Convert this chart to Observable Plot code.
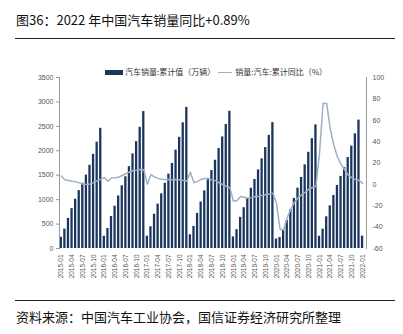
<!DOCTYPE html>
<html><head><meta charset="utf-8">
<script src="https://cdn.jsdelivr.net/npm/d3@7"></script>
<script src="https://cdn.jsdelivr.net/npm/@observablehq/plot@0.6"></script>
<style>
body{margin:0;background:#fff;width:403px;height:334px;position:relative;overflow:hidden;font-family:"Noto Sans CJK SC","Noto Sans",sans-serif;}
#title{position:absolute;left:16px;top:11px;font-size:13px;line-height:18px;color:#111;white-space:nowrap;}
.rule{position:absolute;left:15px;width:380px;border-top:1px solid #222;height:0;}
#chart{position:absolute;left:0;top:44px;}
#legend{position:absolute;top:66px;left:105px;font-size:8px;line-height:12px;color:#333;white-space:nowrap;display:flex;align-items:center;}
#legend .box{display:inline-block;width:18px;height:5px;background:#1b365d;margin-right:2px;}
#legend .ln{display:inline-block;width:14px;height:0;border-top:1.3px solid #9db0c6;margin:0 3px 0 3px;}
#source{position:absolute;left:16px;top:308px;font-size:13px;line-height:18px;color:#111;white-space:nowrap;}
</style></head>
<body>
<div id="title">图36：2022 年中国汽车销量同比+0.89%</div>
<div class="rule" style="top:38px"></div>
<div id="chart"></div>
<div id="legend"><span class="box"></span>汽车销量:累计值（万辆）<span class="ln"></span>销量:汽车:累计同比（%）</div>
<div class="rule" style="top:300px"></div>
<div id="source">资料来源：中国汽车工业协会，国信证券经济研究所整理</div>
<script>
// categories
const years = [2015, 2016, 2017, 2018, 2019, 2020, 2021];
const lastMonth = "2022-01";
// cumulative sales (万辆)
const sales2015 = [231.9, 397.6, 616.7, 816.0, 1007.6, 1184.9, 1335.4, 1501.5, 1703.7, 1926.1, 2176.5, 2459.8];
const sales2016 = [250.6, 409.5, 653.9, 866.7, 1075.2, 1282.9, 1467.6, 1675.6, 1936.1, 2187.2, 2480.7, 2802.8];
const sales2017 = [252.4, 446.3, 700.7, 909.1, 1118.7, 1334.6, 1522.1, 1740.7, 2012.0, 2275.7, 2572.2, 2887.9];
const sales2018 = [280.9, 453.2, 718.8, 950.7, 1179.5, 1406.9, 1595.8, 1806.1, 2045.5, 2283.5, 2538.3, 2808.1];
const sales2019 = [236.7, 384.9, 636.9, 835.2, 1026.6, 1232.3, 1413.1, 1608.9, 1836.1, 2065.8, 2315.4, 2576.9];
const sales2020 = [194.1, 225.0, 367.2, 573.6, 792.6, 1025.7, 1236.1, 1455.1, 1711.6, 1969.0, 2246.9, 2531.1];
const sales2021 = [250.3, 395.8, 648.4, 873.6, 1086.4, 1289.1, 1475.6, 1655.6, 1862.3, 2095.6, 2347.8, 2627.5];
const sales2022 = [253.1];
// cumulative YoY (%)
const yoy2015 = [7.8, 4.3, 3.6, 2.9, 2.4, 1.4, 0.4, 0.0, 0.3, 1.6, 3.3, 4.7];
const yoy2016 = [6.5, 3.0, 6.0, 6.2, 6.7, 8.3, 9.9, 11.6, 13.0, 13.2, 13.9, 13.7];
const yoy2017 = [0.2, 9.0, 7.0, 5.6, 4.7, 4.3, 4.5, 4.4, 4.5, 4.4, 3.7, 3.0];
const yoy2018 = [11.3, 1.6, 2.8, 4.6, 5.4, 5.6, 4.2, 3.5, 1.5, -0.1, -1.7, -2.8];
const yoy2019 = [-15.8, -15.0, -11.3, -12.1, -13.0, -12.4, -11.4, -11.0, -10.3, -9.7, -9.1, -8.2];
const yoy2020 = [-18.0, -42.0, -42.4, -31.1, -23.1, -16.9, -12.5, -9.7, -7.4, -4.7, -2.9, -1.9];
const yoy2021 = [29.5, 76.0, 75.6, 51.8, 36.6, 25.6, 19.0, 13.7, 8.7, 6.4, 4.5, 3.8];
const yoy2022 = [0.9];
// axis ticks
const leftTicks = [0, 500, 1000, 1500, 2000, 2500, 3000, 3500];
const rightTicks = [-60, -40, -20, 0, 20, 40, 60, 80, 100];

const months = [];
years.forEach(y => { for (let m = 1; m <= 12; m++) months.push(`${y}-${String(m).padStart(2, "0")}`); });
months.push(lastMonth);
const sales = [].concat(sales2015, sales2016, sales2017, sales2018, sales2019, sales2020, sales2021, sales2022);
const yoy = [].concat(yoy2015, yoy2016, yoy2017, yoy2018, yoy2019, yoy2020, yoy2021, yoy2022);
const data = months.map((m, i) => ({i, month: m, sales: sales[i], yoy: yoy[i]}));

const yMax = leftTicks[leftTicks.length - 1];
const rMin = rightTicks[0], rMax = rightTicks[rightTicks.length - 1];
const toLeft = v => (v - rMin) / (rMax - rMin) * yMax;
const fromLeft = v => Math.round(v / yMax * (rMax - rMin) + rMin);
const xTicks = data.filter(d => d.i % 3 === 0).map(d => d.i);
const n = data.length;

const chart = Plot.plot({
  width: 403, height: 252,
  marginTop: 33, marginBottom: 48, marginLeft: 59, marginRight: 37,
  style: {fontSize: "7px", fontFamily: "'Liberation Sans', Arial, sans-serif", color: "#555", background: "transparent"},
  x: {type: "linear", domain: [-0.5, n + 0.1], axis: null},
  y: {domain: [0, yMax], axis: null},
  marks: [
    Plot.rectY(data, {x1: d => d.i - 0.32, x2: d => d.i + 0.32, y: "sales", fill: "#1b365d"}),
    Plot.line(data, {x: "i", y: d => toLeft(d.yoy), stroke: "#9db0c6", strokeWidth: 1.5}),
    Plot.frame({anchor: "left", stroke: "#999"}),
    Plot.frame({anchor: "right", stroke: "#999"}),
    Plot.axisY(leftTicks, {anchor: "left", label: null, tickSize: 3, tickPadding: 3, tickFormat: d => String(d), stroke: "#999", fill: "#555"}),
    Plot.axisY(rightTicks.map(toLeft), {anchor: "right", label: null, tickSize: 0, tickPadding: 6, tickFormat: fromLeft, fill: "#555"}),
    Plot.axisX(xTicks, {anchor: "bottom", label: null, tickRotate: -90, tickSize: 0, tickPadding: 6, tickFormat: i => months[i], fontSize: 6.5, fill: "#555"})
  ]
});
document.getElementById("chart").appendChild(chart);
</script>
</body></html>
